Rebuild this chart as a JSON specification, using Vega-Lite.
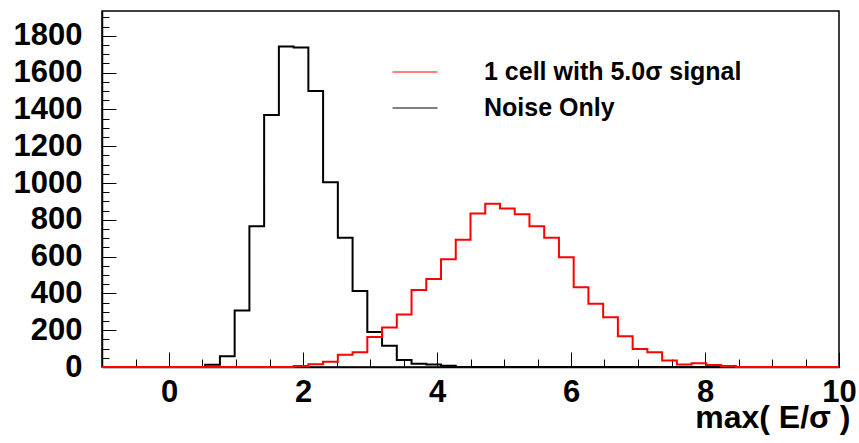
{
  "$schema": "https://vega.github.io/schema/vega-lite/v6.json",
  "width": 737,
  "height": 356,
  "autosize": {"type": "none"},
  "padding": {"left": 102, "top": 11, "right": 20, "bottom": 76},
  "background": "white",
  "config": {
    "view": {"stroke": "black", "strokeWidth": 1.5},
    "axis": {
      "grid": false,
      "domainColor": "black",
      "domainWidth": 1.5,
      "tickColor": "black",
      "tickWidth": 1,
      "labelFont": "Liberation Sans",
      "labelFontWeight": "bold",
      "labelFontSize": 31,
      "labelColor": "black",
      "labelFlush": false,
      "labelOverlap": false,
      "labelBound": false
    }
  },
  "datasets": {
    "noise": [
      {"lo": -1, "count": 0}, {"lo": -0.78, "count": 0}, {"lo": -0.56, "count": 0}, {"lo": -0.34, "count": 0},
      {"lo": -0.12, "count": 0}, {"lo": 0.1, "count": 0}, {"lo": 0.32, "count": 0}, {"lo": 0.54, "count": 12},
      {"lo": 0.76, "count": 58}, {"lo": 0.98, "count": 307}, {"lo": 1.2, "count": 765}, {"lo": 1.42, "count": 1370},
      {"lo": 1.64, "count": 1742}, {"lo": 1.86, "count": 1737}, {"lo": 2.08, "count": 1500}, {"lo": 2.3, "count": 1004},
      {"lo": 2.52, "count": 702}, {"lo": 2.74, "count": 413}, {"lo": 2.96, "count": 190}, {"lo": 3.18, "count": 115},
      {"lo": 3.4, "count": 38}, {"lo": 3.62, "count": 18}, {"lo": 3.84, "count": 14}, {"lo": 4.06, "count": 7},
      {"lo": 4.28, "count": 0}, {"lo": 4.5, "count": 0}, {"lo": 4.72, "count": 0}, {"lo": 4.94, "count": 0},
      {"lo": 5.16, "count": 0}, {"lo": 5.38, "count": 0}, {"lo": 5.6, "count": 0}, {"lo": 5.82, "count": 0},
      {"lo": 6.04, "count": 0}, {"lo": 6.26, "count": 0}, {"lo": 6.48, "count": 0}, {"lo": 6.7, "count": 0},
      {"lo": 6.92, "count": 0}, {"lo": 7.14, "count": 0}, {"lo": 7.36, "count": 0}, {"lo": 7.58, "count": 0},
      {"lo": 7.8, "count": 0}, {"lo": 8.02, "count": 0}, {"lo": 8.24, "count": 0}, {"lo": 8.46, "count": 0},
      {"lo": 8.68, "count": 0}, {"lo": 8.9, "count": 0}, {"lo": 9.12, "count": 0}, {"lo": 9.34, "count": 0},
      {"lo": 9.56, "count": 0}, {"lo": 9.78, "count": 0}, {"lo": 10, "count": 0}
    ],
    "signal": [
      {"lo": -1, "count": 0}, {"lo": -0.78, "count": 0}, {"lo": -0.56, "count": 0}, {"lo": -0.34, "count": 0},
      {"lo": -0.12, "count": 0}, {"lo": 0.1, "count": 0}, {"lo": 0.32, "count": 0}, {"lo": 0.54, "count": 0},
      {"lo": 0.76, "count": 0}, {"lo": 0.98, "count": 0}, {"lo": 1.2, "count": 0}, {"lo": 1.42, "count": 0},
      {"lo": 1.64, "count": 0}, {"lo": 1.86, "count": 5}, {"lo": 2.08, "count": 15}, {"lo": 2.3, "count": 29},
      {"lo": 2.52, "count": 67}, {"lo": 2.74, "count": 80}, {"lo": 2.96, "count": 163}, {"lo": 3.18, "count": 215},
      {"lo": 3.4, "count": 286}, {"lo": 3.62, "count": 418}, {"lo": 3.84, "count": 478}, {"lo": 4.06, "count": 586},
      {"lo": 4.28, "count": 691}, {"lo": 4.5, "count": 834}, {"lo": 4.72, "count": 887}, {"lo": 4.94, "count": 861},
      {"lo": 5.16, "count": 830}, {"lo": 5.38, "count": 765}, {"lo": 5.6, "count": 702}, {"lo": 5.82, "count": 597},
      {"lo": 6.04, "count": 434}, {"lo": 6.26, "count": 344}, {"lo": 6.48, "count": 271}, {"lo": 6.7, "count": 167},
      {"lo": 6.92, "count": 98}, {"lo": 7.14, "count": 80}, {"lo": 7.36, "count": 36}, {"lo": 7.58, "count": 13},
      {"lo": 7.8, "count": 20}, {"lo": 8.02, "count": 11}, {"lo": 8.24, "count": 5}, {"lo": 8.46, "count": 0},
      {"lo": 8.68, "count": 0}, {"lo": 8.9, "count": 0}, {"lo": 9.12, "count": 0}, {"lo": 9.34, "count": 0},
      {"lo": 9.56, "count": 0}, {"lo": 9.78, "count": 0}, {"lo": 10, "count": 0}
    ]
  },
  "encoding": {
    "x": {
      "field": "lo",
      "type": "quantitative",
      "scale": {"domain": [-1, 10], "nice": false, "zero": false},
      "axis": {
        "values": [-0.5, 0, 0.5, 1, 1.5, 2, 2.5, 3, 3.5, 4, 4.5, 5, 5.5, 6, 6.5, 7, 7.5, 8, 8.5, 9, 9.5, 10],
        "labelExpr": "datum.value % 2 === 0 ? format(datum.value, 'd') : ''",
        "tickSize": {"condition": {"test": "datum.value % 2 === 0", "value": -15}, "value": -8},
        "labelPadding": 25,
        "labelBaseline": "top",
        "title": "max( E/σ )",
        "titleFont": "Liberation Sans",
        "titleFontWeight": "bold",
        "titleFontSize": 32,
        "titleColor": "black",
        "titleAlign": "right",
        "titleBaseline": "alphabetic",
        "titleX": 748,
        "titleY": 60
      }
    },
    "y": {
      "field": "count",
      "type": "quantitative",
      "scale": {"domain": [0, 1935], "nice": false},
      "axis": {
        "values": [0, 50, 100, 150, 200, 250, 300, 350, 400, 450, 500, 550, 600, 650, 700, 750, 800, 850, 900, 950, 1000, 1050, 1100, 1150, 1200, 1250, 1300, 1350, 1400, 1450, 1500, 1550, 1600, 1650, 1700, 1750, 1800, 1850, 1900],
        "labelExpr": "datum.value % 200 === 0 ? format(datum.value, 'd') : ''",
        "tickSize": {"condition": {"test": "datum.value % 200 === 0", "value": -14}, "value": -7},
        "labelPadding": 34,
        "labelBaseline": "middle",
        "title": null
      }
    },
    "color": {
      "type": "nominal",
      "scale": {"domain": ["1 cell with 5.0σ signal", "Noise Only"], "range": ["#ff0000", "#000000"]},
      "legend": {
        "orient": "none",
        "legendX": 290,
        "legendY": 38,
        "title": null,
        "padding": 0,
        "symbolType": "stroke",
        "symbolSize": 2025,
        "symbolStrokeWidth": 1,
        "labelFont": "Liberation Sans",
        "labelFontWeight": "bold",
        "labelFontSize": 25,
        "labelColor": "black",
        "labelOffset": 46,
        "labelLimit": 400,
        "rowPadding": -3
      }
    }
  },
  "layer": [
    {
      "data": {"name": "noise"},
      "mark": {"type": "line", "interpolate": "step-after", "strokeWidth": 2},
      "encoding": {"color": {"datum": "Noise Only"}}
    },
    {
      "data": {"name": "signal"},
      "mark": {"type": "line", "interpolate": "step-after", "strokeWidth": 2},
      "encoding": {"color": {"datum": "1 cell with 5.0σ signal"}}
    }
  ]
}
